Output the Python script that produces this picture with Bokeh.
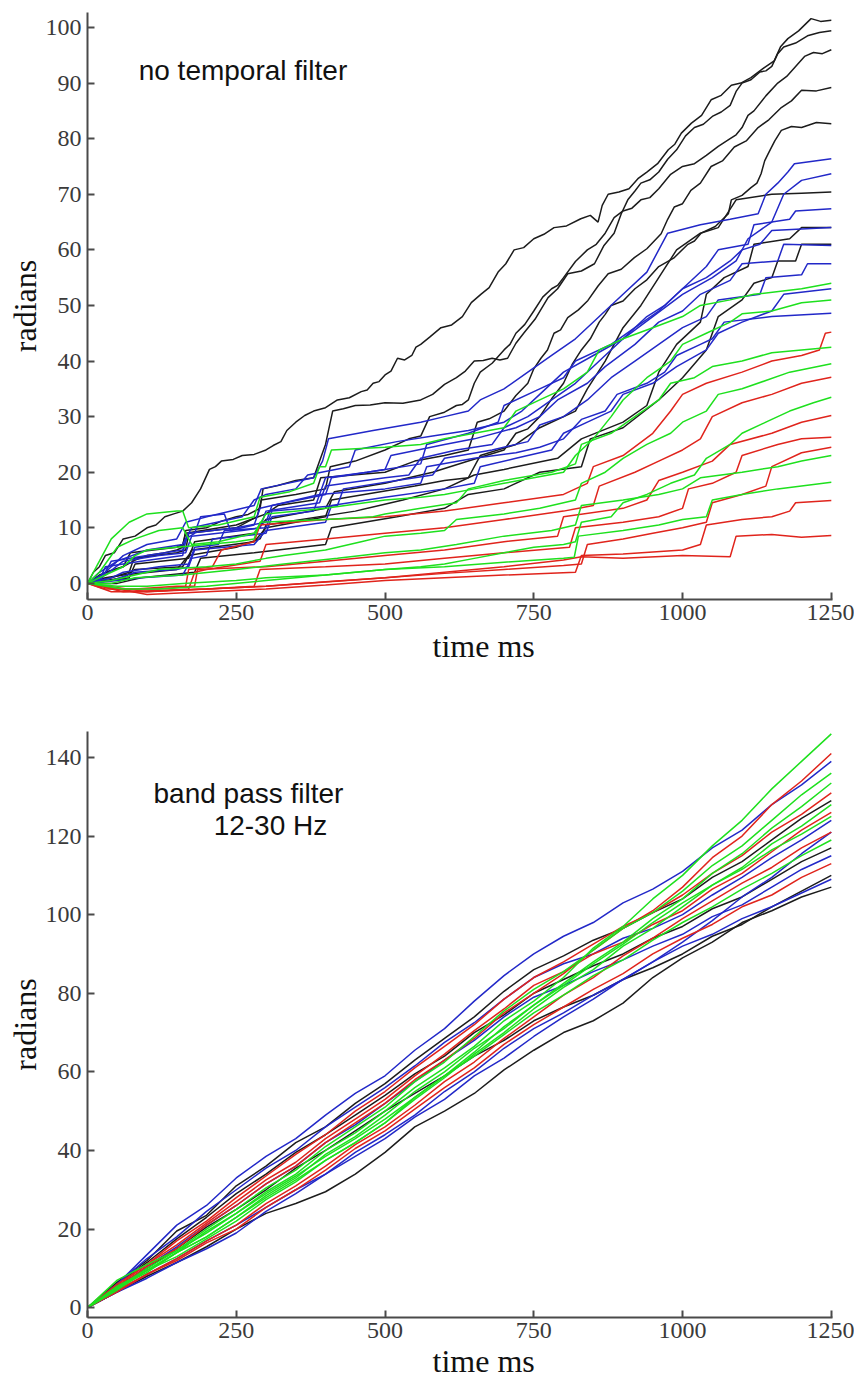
from bokeh.plotting import figure
from bokeh.models import Range1d, Label, FixedTicker, Title
from bokeh.layouts import column
from bokeh.embed import file_html
from bokeh.resources import INLINE

# ---------------- colours ----------------
BLACK = "#1c1c1c"
BLUE = "#2228c8"
GREEN = "#1ee01e"
RED = "#e0241c"

# ---------------- top panel: no temporal filter (time ms, radians) ----------------
nf_black_1 = [(0,0),(10,2),(20,3),(30,5),(45,5.5),(60,8),(80,8.5),(100,10),(115,10.5),(130,12),(145,12.5),(160,13),(175,14.5),(190,17),(205,20.5),(215,21),(225,22),(245,22.3),(260,23),(280,23.2),(300,24),(312,24.8),(325,25.5),(335,27.5),(350,29),(365,30.2),(380,31),(400,31.6),(420,33),(440,33.4),(460,34.5),(470,34.8),(480,36),(490,36.3),(500,37.5),(510,38.2),(521,40.5),(533,40.2),(545,41),(552,42.5),(560,43),(575,44.3),(594,46),(612,46.5),(630,48),(645,50.5),(661,52),(675,53.2),(690,56),(703,57.5),(717,60),(733,60.4),(750,62),(767,62.8),(784,64),(805,64.3),(829,65.6),(845,66.2),(858,65),(865,68),(875,70),(893,70.4),(910,71),(925,72.8),(940,74),(958,75.5),(976,78),(987,79),(998,81),(1015,82.8),(1032,84.2),(1048,87),(1065,87.8),(1082,89.6),(1098,90),(1115,91),(1135,92.6),(1154,94),(1165,96.6),(1177,98),(1195,99.4),(1216,101.6),(1232,101.1),(1250,101.3)]
nf_black_2 = [(0,0),(20,1.5),(40,2.3),(60,3),(80,4.2),(100,5),(125,5.4),(150,6),(160,6.5),(165,9.5),(200,10),(225,11.2),(250,12),(270,12.4),(290,13.5),(295,17),(320,17.6),(350,18.5),(380,19),(390,22),(400,25),(412,31),(430,31.4),(450,32),(475,32.1),(500,32.5),(530,32.4),(560,33),(580,34),(600,35.8),(620,37),(635,38.2),(650,40),(665,40.1),(680,40.5),(693,40.2),(706,40.5),(720,43.2),(733,45),(752,47.5),(774,51.4),(790,53),(807,55.7),(830,56.2),(852,57.5),(868,60.8),(885,63),(897,66.5),(908,69),(920,70.6),(930,72),(945,72.6),(960,74),(975,76.3),(990,78),(1005,80.5),(1020,82),(1035,82.6),(1050,84),(1065,84.8),(1080,86),(1090,88.5),(1100,90),(1115,90.6),(1130,92),(1140,92.2),(1150,93),(1160,95.3),(1170,96.5),(1190,97.2),(1210,98.5),(1230,99.1),(1250,99.4)]
nf_black_3 = [(0,0),(40,1),(70,2),(78,4.5),(150,5.5),(165,6),(170,9),(250,10),(285,12),(292,15),(350,16),(400,17),(408,21),(450,22),(500,24),(540,26),(560,26.5),(575,30),(600,30.8),(620,32),(630,32.2),(640,33),(650,36),(660,38),(680,39.6),(700,42),(710,43),(720,45),(735,46.6),(750,49),(765,51.5),(780,53),(790,53.6),(800,55),(820,57.9),(840,60),(855,61),(870,63),(885,65.8),(900,67),(915,67.5),(930,69),(945,69.4),(960,71),(980,73.6),(1000,75),(1020,75.5),(1040,77),(1060,78.6),(1080,80),(1090,80.7),(1100,82),(1110,84.2),(1120,85),(1140,87.7),(1160,90),(1175,91.2),(1190,93),(1205,94.8),(1220,95.5),(1235,95.3),(1250,96)]
nf_black_4 = [(0,0),(30,2),(60,3),(72,5.5),(150,6.5),(160,7),(165,9),(250,10.5),(300,12.5),(320,14),(380,15),(392,19),(500,20),(550,22),(600,23),(640,24),(655,29),(675,29.6),(700,31),(720,33.8),(740,36),(750,38.6),(762,40.5),(773,42),(784,45),(795,45.6),(807,47.8),(825,49.2),(841,50.9),(858,53.5),(875,55.7),(897,56.5),(919,58.6),(940,60.2),(964,62.9),(975,65.5),(986,67.7),(1000,68.3),(1014,70.7),(1030,72),(1048,75),(1067,76),(1087,78.5),(1107,79.6),(1127,82),(1145,83.4),(1166,85.6),(1183,86.8),(1200,88.7),(1225,88.6),(1250,89.2)]
nf_black_5 = [(0,0),(40,0.5),(70,1),(80,3.5),(170,4.5),(180,7.5),(280,9),(300,11.5),(400,13.5),(415,16.5),(500,18),(580,20),(640,22),(700,24),(720,27),(740,27.8),(760,30),(780,33.2),(800,36),(815,39.5),(830,42),(845,44),(860,47),(870,48.4),(880,50),(900,50.8),(920,53),(940,54.6),(960,57),(985,58.5),(1009,61),(1020,61.6),(1031,63),(1055,64.2),(1077,66.5),(1082,69),(1100,69.8),(1115,71.2),(1125,72),(1132,73.7),(1138,76),(1144,77.3),(1155,79.6),(1166,81.5),(1183,82.2),(1200,82),(1225,82.9),(1250,82.7)]
nf_black_6 = [(0,0),(60,1),(80,2.5),(160,3),(175,6),(280,7.5),(300,10),(400,12),(410,15),(550,17.5),(600,18.5),(640,19),(660,23),(720,25),(760,28),(820,31),(840,35),(870,40),(900,46),(930,50),(960,55),(990,60),(1030,63),(1060,64),(1090,69),(1150,70),(1200,70.2),(1250,70.4)]
nf_black_7 = [(0,0),(30,1),(60,1.5),(150,2.5),(170,5),(250,6.5),(290,8),(300,10.5),(450,13),(530,15),(600,17),(650,19.5),(700,20.5),(790,22.5),(830,26),(900,29),(940,32),(960,38),(990,43),(1030,47),(1040,52),(1070,55),(1110,57),(1120,61),(1180,62),(1200,64),(1250,64)]
nf_black_8 = [(0,0),(50,0),(90,1),(180,2),(190,4.5),(280,5.5),(400,7),(410,10),(520,12),(600,13.5),(640,16),(700,17),(760,20),(830,21),(845,26),(900,28),(960,33),(1000,37),(1040,42),(1060,48),(1100,51),(1120,54),(1150,55),(1160,58),(1190,58),(1200,61),(1250,61)]

nf_blue_1 = [(0,0),(30,2),(60,5),(100,7),(150,8),(165,11),(220,12.5),(280,14),(292,17),(380,19),(395,22),(405,26),(480,27.5),(560,29),(600,30),(640,31),(660,33),(700,35),(740,38),(780,41),(820,44),(860,48),(900,52),(940,56),(975,63),(1030,64.5),(1080,65.5),(1127,66.5),(1140,70),(1160,72),(1177,74),(1188,75.5),(1250,76.4)]
nf_blue_2 = [(0,0),(20,2),(50,4),(100,6),(160,7),(175,10),(260,12),(280,15),(300,16),(350,17),(370,19.5),(440,21),(450,24),(520,25.5),(580,26.5),(640,27.5),(700,29),(730,31),(760,34),(800,38),(850,41),(900,44),(950,48),(1000,52),(1050,55),(1090,58),(1110,62),(1150,65),(1170,70),(1200,72.5),(1250,73.7)]
nf_blue_3 = [(0,0),(25,1),(40,4),(100,5),(160,6),(170,9),(250,10),(300,11),(310,14),(400,16),(410,19),(500,20.5),(560,21.5),(570,25),(640,27),(690,29),(700,32),(760,35),(800,37),(820,40),(880,43),(920,46),(960,49),(1000,53),(1040,57),(1060,60),(1110,61),(1120,64.5),(1180,65.5),(1190,67),(1250,67.4)]
nf_blue_4 = [(0,0),(20,0.5),(30,3),(90,4),(160,5),(165,8),(180,9),(190,12),(230,12.5),(240,9.5),(280,10.5),(290,13.5),(390,16),(400,19),(470,20),(500,20.5),(510,23),(600,25),(650,26),(720,28),(760,30),(790,33),(840,36),(870,39),(920,43),(960,47),(1000,49),(1030,52),(1080,54.5),(1100,57.5),(1160,58),(1170,61),(1250,60.8)]
nf_blue_5 = [(0,0),(40,1),(60,2),(120,3),(170,3.5),(180,6.5),(220,7),(230,9.5),(300,10),(310,13),(420,14),(430,17),(520,18.5),(580,19.5),(600,22.5),(680,24),(740,25.5),(760,28.5),(800,30),(840,33),(880,37),(920,40),(960,43),(1000,46),(1040,48),(1060,51),(1130,52),(1140,55),(1200,55.5),(1210,57.5),(1250,57.5)]
nf_blue_6 = [(0,0),(50,0.5),(90,1),(160,1.5),(175,4.5),(200,5),(210,8),(300,9),(310,12),(380,13),(390,16),(500,17),(560,18),(570,21),(650,22.5),(720,23.5),(760,24.5),(800,26),(830,29.5),(870,31),(890,34),(940,36),(970,38),(990,41),(1030,43),(1050,44),(1070,47),(1150,48),(1250,48.6)]
nf_blue_7 = [(0,0),(30,1.5),(60,4),(120,5),(165,5.5),(175,8.5),(260,9.5),(290,10),(300,13),(390,14.5),(400,17.5),(500,19),(540,19.5),(560,22.5),(620,24),(680,25),(700,28),(740,30),(780,33),(820,36),(860,40),(900,44),(940,48),(970,50),(1000,53),(1040,55),(1080,58),(1100,60),(1130,61),(1150,63.5),(1250,64)]
nf_blue_8 = [(0,0),(40,0.5),(80,2),(150,2.5),(170,3),(180,6),(280,7),(300,9.5),(400,11),(410,14),(500,15.5),(600,17),(650,18),(660,21),(720,22.5),(780,24),(800,27),(840,29),(880,31),(900,34),(950,36),(990,39),(1040,42),(1060,45),(1100,47),(1150,49),(1170,52),(1250,53)]

nf_green_1 = [(0,0),(15,3),(40,8),(70,11),(100,12.5),(150,13),(160,13),(170,10),(220,10.5),(280,12),(290,15.5),(340,16.5),(380,18),(390,21),(400,21),(410,24),(500,24.5),(560,25),(600,26),(650,27),(700,28),(720,31),(760,33),(800,35),(840,38),(860,42),(900,44),(950,46),(1000,48),(1030,50),(1080,51),(1120,52),(1200,53),(1250,54)]
nf_green_2 = [(0,0),(20,2),(50,6.5),(80,8),(120,9.5),(160,10),(175,7),(220,7.5),(280,9),(300,12.5),(400,13.5),(500,15),(560,15.5),(600,16),(650,17),(700,18),(750,19),(800,20),(820,23),(850,26),(880,30),(900,33),(940,37),(980,40),(1000,43),(1040,45),(1080,47),(1100,48.5),(1150,49),(1200,50.5),(1250,51)]
nf_green_3 = [(0,0),(30,1.5),(60,3),(80,5),(100,6),(150,6.5),(200,7),(250,7.5),(280,8),(290,11),(400,11.5),(480,12),(500,12.5),(560,13.5),(620,14.5),(640,17),(700,18.5),(780,20),(820,21.5),(830,25),(880,27),(920,30),(960,33),(980,36),(1020,37),(1050,39),(1100,40),(1150,41.5),(1200,42),(1250,42.5)]
nf_green_4 = [(0,0),(40,0.5),(80,1.5),(120,2.5),(200,3),(250,3.5),(300,4.5),(330,5),(400,6),(460,7.5),(500,8.5),(560,9),(600,9.5),(620,11.5),(700,12.5),(760,13.5),(820,15),(830,18),(870,20),(900,22.5),(940,25),(980,27),(1000,29),(1040,31),(1060,34),(1100,35),(1140,36.5),(1180,38),(1250,39.5)]
nf_green_5 = [(0,0),(50,-0.5),(100,-0.5),(160,0),(250,0.5),(300,1),(400,1.5),(500,2.5),(560,3),(600,3.5),(650,4.5),(700,5.5),(750,6.5),(800,7),(820,7.5),(830,11),(880,12),(900,14.5),(940,16),(980,18),(1020,19.5),(1040,22.5),(1080,25),(1100,27),(1140,29),(1180,31),(1220,32.5),(1250,33.5)]
nf_green_6 = [(0,0),(40,0),(80,1),(160,1.5),(250,2.5),(330,3.5),(420,4.5),(500,5.5),(560,6),(620,7),(700,8.5),(780,9.5),(820,10.5),(830,14),(900,15),(960,16),(1000,17),(1030,19),(1100,20),(1160,21),(1200,22),(1250,23)]
nf_green_7 = [(0,0),(60,-1),(120,-1),(200,-0.5),(300,0.5),(400,1.5),(500,2.5),(600,3),(700,3.8),(800,4.5),(818,4.7),(825,8.5),(900,9.5),(960,10.5),(1000,11.5),(1040,12),(1050,15),(1100,16),(1160,17),(1250,18.2)]

nf_red_1 = [(0,0),(30,-1),(80,-1),(150,-0.5),(165,-0.5),(170,2.5),(210,3),(225,6),(280,7.5),(290,10.5),(400,11.5),(500,12),(600,13),(700,14.5),(800,16),(840,18),(850,21),(900,23),(950,27),(980,31),(1000,34),(1040,36),(1100,38),(1150,40),(1200,41),(1230,42),(1240,45),(1250,45.2)]
nf_red_2 = [(0,0),(40,-1.5),(100,-1.5),(170,-1),(180,2),(200,2.5),(230,3),(290,4),(300,7),(400,8),(500,9),(600,10),(700,11.5),(800,13),(850,14),(860,17.5),(920,20),(960,22),(1000,24),(1030,26),(1050,30),(1100,32.5),(1150,34),(1200,36),(1250,37.1)]
nf_red_3 = [(0,0),(50,-1),(120,-1),(175,-0.5),(180,-0.5),(185,2.5),(300,3),(400,4),(500,5),(600,6),(700,7.5),(790,8.5),(800,12),(900,13.5),(940,15),(960,18.5),(1000,20),(1050,22),(1080,25),(1150,27),(1200,29),(1250,30.2)]
nf_red_4 = [(0,0),(60,-1.5),(200,-1),(280,-0.5),(290,2.5),(400,3),(500,3.5),(600,4.5),(700,5.5),(810,6.5),(820,10),(900,11),(960,12),(1000,13.5),(1010,17),(1050,18),(1090,20),(1100,23),(1160,25),(1200,26),(1250,26.3)]
nf_red_5 = [(0,0),(80,-1.5),(200,-1),(300,-0.5),(400,0.3),(500,1),(600,1.8),(700,2.5),(800,3.2),(830,3.5),(840,7),(900,8),(950,9),(1000,10),(1040,11),(1050,14.5),(1100,16),(1140,17.5),(1150,21),(1200,23.5),(1250,24.5)]
nf_red_6 = [(0,0),(100,-2),(200,-1.5),(300,-1),(400,-0.3),(500,0.5),(600,1),(700,1.5),(820,2),(830,5),(900,5.3),(1000,6),(1030,7),(1040,10.5),(1100,11.5),(1150,12),(1180,13),(1190,14.5),(1250,14.9)]
nf_red_7 = [(0,0),(100,-1.5),(300,-0.5),(500,1),(600,2),(700,3),(800,4.2),(830,4.8),(900,4.5),(1000,5),(1080,4.8),(1090,8.5),(1150,8.8),(1200,8.3),(1250,8.6)]

top_series = (
    [(s, BLACK) for s in [nf_black_1, nf_black_2, nf_black_3, nf_black_4, nf_black_5, nf_black_6, nf_black_7, nf_black_8]]
    + [(s, BLUE) for s in [nf_blue_1, nf_blue_2, nf_blue_3, nf_blue_4, nf_blue_5, nf_blue_6, nf_blue_7, nf_blue_8]]
    + [(s, RED) for s in [nf_red_1, nf_red_2, nf_red_3, nf_red_4, nf_red_5, nf_red_6, nf_red_7]]
    + [(s, GREEN) for s in [nf_green_1, nf_green_2, nf_green_3, nf_green_4, nf_green_5, nf_green_6, nf_green_7]]
)

# ---------------- bottom panel: band pass filter 12-30 Hz ----------------
bp_time = [0,50,100,150,200,250,300,350,400,450,500,550,600,650,700,750,800,850,900,950,1000,1050,1100,1150,1200,1250]

bp_green_1 = [0,5.5,9.5,14,19.5,24,29.5,34,40,44.5,50,56,61,66.5,73,78,84,91.5,97,104,110,117.5,124,132,139,146]
bp_red_1 = [0,5,10.5,15,21,26,31.5,36,42,47,52,58,63,68.5,75,80,85,91,96.5,101,107,114.5,120,128,134,141]
bp_blue_1 = [0,6,13.5,21,26,33,38.5,43,49,54.5,59,65.5,71,78,84.5,90,94.5,98,103,106.5,111,117,121.5,128,133,139]
bp_green_2 = [0,7,11,14.5,20,25,30.5,35,41,46,51,57.5,62.5,69,75.5,81,85.5,91,96.5,100.5,106,112.5,117.5,124,130.5,136]
bp_green_3 = [0,5,9,14,18,23,28.5,33,39,43.5,49,55,60,66,71,77,82.5,88,93,99,104,110.5,115.5,122,127.5,133.5]
bp_red_2 = [0,6,11,17,22,28,33.5,39,44,50,55,61,66.5,72,78.5,84,88,92.5,97,100.5,105,110.5,115,121,125.5,131]
bp_black_1 = [0,6.5,12,19.5,23.5,31,36,42,46,52,57,63,68.5,74,80.5,86,89.5,93.5,96.5,100.5,104,109.5,113.5,119,124.5,129]
bp_green_4 = [0,5,9.5,13,17.5,22,27.5,32,37.5,42,47,53,58.5,64.5,70,76,81.5,86,92,96.5,102,107.5,112,118,122.5,128]
bp_red_3 = [0,5.5,11,16,21.5,27,32.5,37,43,48,53,59,64.5,70.5,76,82,85.5,90,93,97.5,101,106.5,110.5,116,121.5,126]
bp_blue_2 = [0,6,12.5,18,24.5,30,35.5,40,46,51,56,61.5,67.5,72.5,78.5,84,87.5,90,94,96.5,100,105,109.5,114.5,119,124]
bp_red_4 = [0,4.5,8.5,12.5,17,21,26.5,31,36,41.5,46,51.5,57.5,62.5,68.5,74,79.5,84,89.5,94,99,103.5,108,112,117,121]
bp_green_5 = [0,5,10,14.5,19,24,29,33.5,38.5,43,48,53.5,59,64,69.5,75,79.5,84.5,88.5,93.5,98,102,106.5,110.5,115,119]
bp_black_2 = [0,6,11.5,17.5,23,29,34,39.5,44,49,54,59.5,64,70,74.5,80,83.5,87,90,94,97,101.5,104.5,109,113.5,117]
bp_blue_3 = [0,5,10.5,15.5,21,26,31.5,36,42,46.5,52,57.5,63,68,74,79,82,85.5,88.5,92,95,99.5,102.5,107,111.5,115]
bp_red_5 = [0,4,8.5,12,16.5,20,25.5,30,35,40.5,45,50.5,56,61,67,72,76.5,81,85,90,94,97.5,102,105,109.5,113]
bp_black_3 = [0,4,8,11.5,15.5,20,24,26.5,29.5,34,39.5,46,50,54.5,60.5,65.5,70,73,77.5,84,89,93,98,101,104.5,107]
bp_blue_4 = [0,4,7.5,11.5,15,19,24.5,29,34,39.5,44,49,55,60,66,71,75,79.5,83.5,88,92,95,99,102,105.5,109]
bp_black_4 = [0,5.5,10,15,20.5,25,30,35.5,40,45,50,54.5,59,64,68,73,76.5,79.5,83.5,86.5,90,94.5,97.5,102,106,110]
bp_green_6 = [0,4.5,9.5,14,18,23,28,32.5,37.5,42,47,53.5,59,65,71.5,77,82,87.5,92.5,98,103,107.5,111.5,116.5,120.5,125]
bp_blue_5 = [0,4,8.5,12.5,17,21,25.5,30,34,38.5,43,48.5,53,59,63.5,69,74,78.5,83.5,88,93,98.5,104.5,109.5,115.5,121]

bottom_series = (
    [(s, BLACK) for s in [bp_black_1, bp_black_2, bp_black_3, bp_black_4]]
    + [(s, BLUE) for s in [bp_blue_1, bp_blue_2, bp_blue_3, bp_blue_4, bp_blue_5]]
    + [(s, RED) for s in [bp_red_1, bp_red_2, bp_red_3, bp_red_4, bp_red_5]]
    + [(s, GREEN) for s in [bp_green_1, bp_green_2, bp_green_3, bp_green_4, bp_green_5, bp_green_6]]
)

x_ticks = [0, 250, 500, 750, 1000, 1250]
top_y_ticks = [0, 10, 20, 30, 40, 50, 60, 70, 80, 90, 100]
bottom_y_ticks = [0, 20, 40, 60, 80, 100, 120, 140]

AXIS_COLOR = "#4a4a4a"
SERIF = "Liberation Serif"
SANS = "Liberation Sans"


def make_fig(height, border_top, border_bottom, y_start, y_end, y_ticks, title_standoff):
    p = figure(width=854, height=height, output_backend="svg", toolbar_location=None,
               x_range=Range1d(0, 1252), y_range=Range1d(y_start, y_end),
               min_border_left=87, min_border_right=22,
               min_border_top=border_top, min_border_bottom=border_bottom)
    p.outline_line_color = None
    p.grid.visible = False
    p.background_fill_color = "white"
    p.border_fill_color = "white"
    for ax in (p.xaxis[0], p.yaxis[0]):
        ax.axis_line_color = AXIS_COLOR
        ax.axis_line_width = 2
        ax.major_tick_in = 7
        ax.major_tick_out = 0
        ax.major_tick_line_color = AXIS_COLOR
        ax.major_tick_line_width = 2
        ax.minor_tick_line_color = None
        ax.major_label_text_font = SERIF
        ax.major_label_text_font_size = "24px"
        ax.major_label_text_color = "#3a3a3a"
    p.xaxis.ticker = FixedTicker(ticks=x_ticks)
    p.yaxis.ticker = FixedTicker(ticks=y_ticks)
    p.xaxis.major_label_standoff = 5
    p.yaxis.major_label_standoff = 6
    p.yaxis.axis_label = "radians"
    p.yaxis.axis_label_text_font = SERIF
    p.yaxis.axis_label_text_font_size = "32px"
    p.yaxis.axis_label_text_font_style = "normal"
    p.yaxis.axis_label_text_color = "#111111"
    p.yaxis.axis_label_standoff = 0
    p.add_layout(Title(text="time ms", align="left", offset=345, standoff=title_standoff,
                       text_font=SERIF, text_font_size="32px", text_font_style="normal",
                       text_color="#111111"), "below")
    return p


p1 = make_fig(680, 12, 81, -2.9, 102.7, top_y_ticks, 6)
for series, col in top_series:
    p1.line([pt[0] for pt in series], [pt[1] for pt in series], line_color=col, line_width=1.5)
p1.add_layout(Label(x=86, y=92.3, text="no temporal filter", text_font=SANS,
                    text_font_size="28px", text_color="#111111", text_baseline="alphabetic"))

p2 = make_fig(698, 51, 60, -2.5, 146.6, bottom_y_ticks, 0)
for series, col in bottom_series:
    p2.line(bp_time, series, line_color=col, line_width=1.5)
p2.add_layout(Label(x=111, y=130.9, text="band pass filter", text_font=SANS,
                    text_font_size="28px", text_color="#111111", text_baseline="alphabetic"))
p2.add_layout(Label(x=212, y=122.7, text="12-30 Hz", text_font=SANS,
                    text_font_size="28px", text_color="#111111", text_baseline="alphabetic"))

layout = column(p1, p2)
open("out.html", "w").write(file_html(layout, INLINE))
